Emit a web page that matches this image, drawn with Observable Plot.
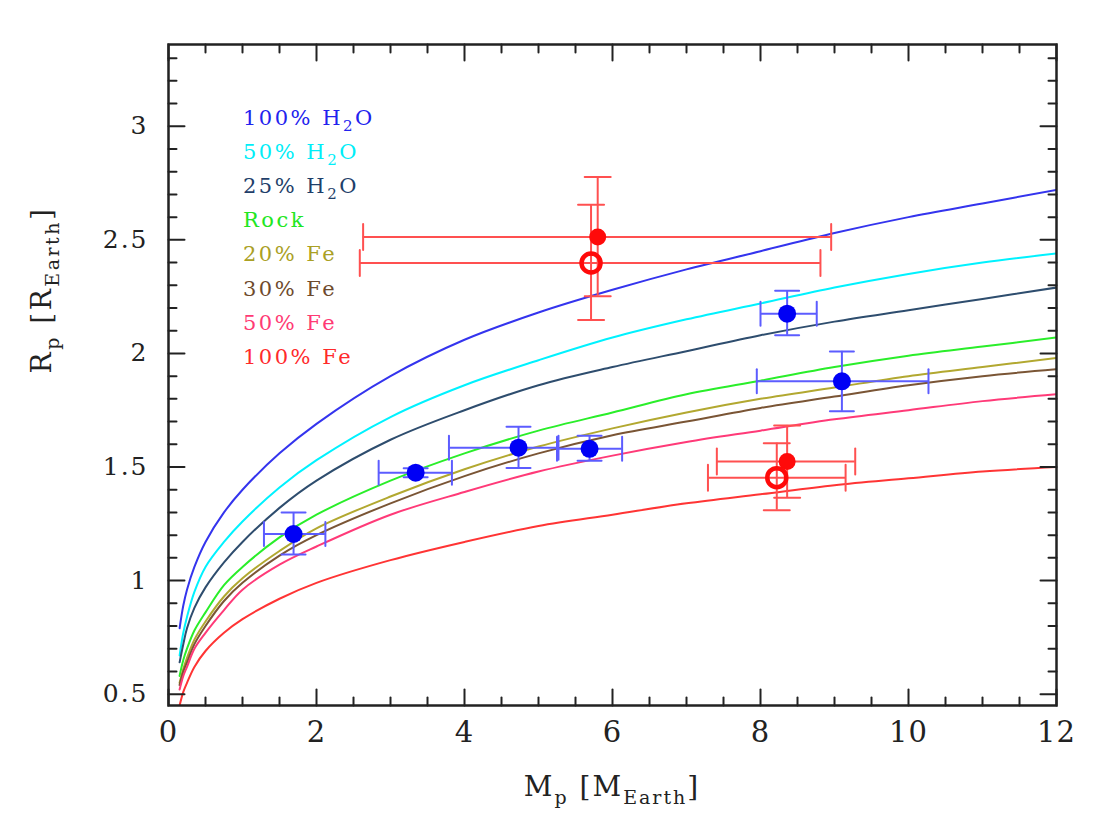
<!DOCTYPE html>
<html>
<head>
<meta charset="utf-8">
<script src="https://cdn.jsdelivr.net/npm/d3@7"></script>
<script src="https://cdn.jsdelivr.net/npm/@observablehq/plot@0.6"></script>
<style>
  html, body { margin: 0; padding: 0; background: #fff; }
  #chart { width: 1113px; height: 834px; }
</style>
</head>
<body>
<div id="chart"></div>
<script>
// Planet mass grid (Earth masses) on which the model radius curves are tabulated
const massGrid = [0.15, 0.2, 0.25, 0.35, 0.5, 0.75, 1, 1.5, 2, 3, 4, 5, 6, 7, 8, 9, 10, 11, 12];

// Model radii (Earth radii) for each bulk composition
const rWater100 = [0.79, 0.89, 0.96, 1.06, 1.17, 1.30, 1.40, 1.56, 1.69, 1.90, 2.06, 2.18, 2.28, 2.37, 2.45, 2.53, 2.60, 2.66, 2.72];
const rWater50  = [0.67, 0.77, 0.84, 0.95, 1.06, 1.17, 1.26, 1.41, 1.53, 1.72, 1.86, 1.97, 2.07, 2.15, 2.22, 2.29, 2.35, 2.40, 2.44];
const rWater25  = [0.64, 0.72, 0.79, 0.88, 0.97, 1.08, 1.17, 1.32, 1.44, 1.62, 1.75, 1.86, 1.94, 2.01, 2.08, 2.14, 2.19, 2.24, 2.29];
const rRock     = [0.58, 0.65, 0.70, 0.78, 0.86, 0.98, 1.06, 1.19, 1.29, 1.44, 1.56, 1.66, 1.74, 1.82, 1.88, 1.94, 1.99, 2.03, 2.07];
const rFe20     = [0.55, 0.61, 0.66, 0.74, 0.82, 0.93, 1.01, 1.13, 1.23, 1.37, 1.49, 1.59, 1.67, 1.74, 1.80, 1.85, 1.90, 1.94, 1.98];
const rFe30     = [0.54, 0.60, 0.64, 0.72, 0.80, 0.91, 0.99, 1.11, 1.20, 1.34, 1.46, 1.56, 1.64, 1.70, 1.76, 1.81, 1.86, 1.90, 1.93];
const rFe50     = [0.52, 0.58, 0.62, 0.70, 0.77, 0.87, 0.96, 1.07, 1.15, 1.29, 1.39, 1.48, 1.55, 1.61, 1.66, 1.71, 1.75, 1.79, 1.82];
const rFe100    = [0.45, 0.51, 0.55, 0.62, 0.69, 0.77, 0.83, 0.92, 0.99, 1.09, 1.17, 1.24, 1.29, 1.34, 1.38, 1.42, 1.45, 1.48, 1.50];

const modelRadii  = [rWater100, rWater50, rWater25, rRock, rFe20, rFe30, rFe50, rFe100];
const modelColors = ["#3434ee", "#00f2ff", "#2e4d6e", "#2aee2a", "#b2a830", "#7a5535", "#ff3a78", "#ff3434"];

// Legend entries (_{...} marks a subscript)
const legendLabels = ["100% H_{2}O", "50% H_{2}O", "25% H_{2}O", "Rock", "20% Fe", "30% Fe", "50% Fe", "100% Fe"];
const legendColors = ["#2222ee", "#00eef8", "#1f3f6a", "#22e622", "#aaa024", "#6e4a2c", "#ff3a74", "#ff2a2a"];

// Measured planets (blue): mass, radius and error ranges
const blueMass   = [1.69, 3.34, 4.73, 5.69, 8.36, 9.10];
const blueRadius = [1.205, 1.475, 1.585, 1.58, 2.175, 1.877];
const blueMassLo = [1.29, 2.84, 3.79, 5.25, 8.00, 7.95];
const blueMassHi = [2.12, 3.83, 5.27, 6.13, 8.76, 10.27];
const blueRadLo  = [1.115, 1.455, 1.496, 1.527, 2.08, 1.745];
const blueRadHi  = [1.30, 1.495, 1.677, 1.638, 2.276, 2.009];

// Red planets, filled symbols
const redMass   = [5.80, 8.36];
const redRadius = [2.513, 1.524];
const redMassLo = [2.63, 7.41];
const redMassHi = [8.955, 9.28];
const redRadLo  = [2.252, 1.365];
const redRadHi  = [2.777, 1.683];

// Red planets, open symbols
const redOpenMass   = [5.71, 8.22];
const redOpenRadius = [2.398, 1.453];
const redOpenMassLo = [2.585, 7.29];
const redOpenMassHi = [8.81, 9.15];
const redOpenRadLo  = [2.147, 1.31];
const redOpenRadHi  = [2.655, 1.605];

// Axis ticks and labels
const xTicks = [0, 2, 4, 6, 8, 10, 12];
const yTicks = [0.5, 1, 1.5, 2, 2.5, 3];
const xTitle = "M_{p} [M_{Earth}]";
const yTitle = "R_{p} [R_{Earth}]";

// ---------------------------------------------------------------------------
const curves = modelRadii.map((radii, k) => ({
  color: modelColors[k],
  rows: massGrid.map((m, i) => ({m, r: radii[i]}))
}));

function planets(M, R, MLo, MHi, RLo, RHi) {
  return M.map((m, i) => ({m, r: R[i], mlo: MLo[i], mhi: MHi[i], rlo: RLo[i], rhi: RHi[i]}));
}
const bluePts = planets(blueMass, blueRadius, blueMassLo, blueMassHi, blueRadLo, blueRadHi);
const redPts = planets(redMass, redRadius, redMassLo, redMassHi, redRadLo, redRadHi);
const redOpenPts = planets(redOpenMass, redOpenRadius, redOpenMassLo, redOpenMassHi, redOpenRadLo, redOpenRadHi);

// a plain line segment used for tick marks and error-bar caps
const segment = { draw(ctx, l) { ctx.moveTo(0, 0); ctx.lineTo(0, -l); } };

function errorBars(pts, color, cap) {
  const s = {stroke: color, strokeWidth: 2};
  return [
    Plot.ruleY(pts, {y: "r", x1: "mlo", x2: "mhi", ...s}),
    Plot.ruleX(pts, {x: "m", y1: "rlo", y2: "rhi", ...s}),
    Plot.vector(pts, {x: "mlo", y: "r", length: cap, rotate: 0, anchor: "middle", shape: segment, ...s}),
    Plot.vector(pts, {x: "mhi", y: "r", length: cap, rotate: 0, anchor: "middle", shape: segment, ...s}),
    Plot.vector(pts, {x: "m", y: "rlo", length: cap, rotate: 90, anchor: "middle", shape: segment, ...s}),
    Plot.vector(pts, {x: "m", y: "rhi", length: cap, rotate: 90, anchor: "middle", shape: segment, ...s})
  ];
}

const xMinor = d3.range(0, 12.001, 0.5).filter(v => !xTicks.includes(v));
const yAll = d3.range(5, 34).map(v => v / 10);
const yMinor = yAll.filter(v => !yTicks.includes(v));

function frameTicks(values, axis, anchors, len) {
  const rot = {bottom: 0, top: 180, left: 90, right: -90};
  return anchors.map(a => Plot.vector(values, {
    [axis]: d => d, frameAnchor: a, rotate: rot[a], length: len, anchor: "start",
    shape: segment, stroke: "#222", strokeWidth: 2
  }));
}

const chart = Plot.plot({
  width: 1113,
  height: 834,
  marginLeft: 168,
  marginRight: 57,
  marginTop: 44,
  marginBottom: 129,
  x: {domain: [0, 12]},
  y: {domain: [0.45, 3.36]},
  style: {fontFamily: "'DejaVu Serif', serif", background: "#fff", color: "#222"},
  marks: [
    ...curves.map(c => Plot.line(c.rows, {x: "m", y: "r", stroke: c.color, strokeWidth: 2, curve: "catmull-rom", clip: true})),
    ...errorBars(bluePts, "#5c5cff", 24),
    ...errorBars(redPts, "#ff5050", 26),
    ...errorBars(redOpenPts, "#ff5050", 26),
    Plot.dot(bluePts, {x: "m", y: "r", r: 9, fill: "#0000f5"}),
    Plot.dot(redPts, {x: "m", y: "r", r: 8.5, fill: "#ff0a0a"}),
    Plot.dot(redOpenPts, {x: "m", y: "r", r: 9.5, stroke: "#ff0a0a", strokeWidth: 4.5, fill: "none"}),
    Plot.frame({stroke: "#222", strokeWidth: 2.5}),
    ...frameTicks(xTicks, "x", ["bottom", "top"], 16),
    ...frameTicks(xMinor, "x", ["bottom", "top"], 8),
    ...frameTicks(yTicks, "y", ["left", "right"], 16),
    ...frameTicks(yMinor, "y", ["left", "right"], 8),
    Plot.axisX({ticks: xTicks, tickSize: 0, tickPadding: 16, fontSize: 29, label: null, tickFormat: d => String(d)}),
    Plot.axisY({ticks: yTicks, tickSize: 0, tickPadding: 20, fontSize: 25, label: null, tickFormat: d => String(d)})
  ]
});

document.getElementById("chart").appendChild(chart);

// text with _{...} subscripts rendered as tspans
function richText(sel, str, subSize, shift) {
  const parts = str.split(/(_\{[^}]*\})/).filter(s => s.length);
  let lowered = false;
  parts.forEach(p => {
    const sub = p.startsWith("_{");
    const t = sel.append("tspan").text(sub ? p.slice(2, -1) : p);
    if (sub) { t.attr("font-size", subSize).attr("dy", shift); lowered = true; }
    else if (lowered) { t.attr("dy", -shift); lowered = false; }
  });
}

const svg = d3.select(chart);
svg.selectAll("[aria-label='y-axis tick label'] text").attr("letter-spacing", 2);
svg.selectAll("[aria-label='x-axis tick label'] text").attr("letter-spacing", 1);

const legend = svg.append("g")
  .attr("font-family", "'DejaVu Serif', serif")
  .attr("font-size", 21)
  .attr("text-anchor", "start")
  .attr("letter-spacing", 2.5);
legendLabels.forEach((s, i) => {
  const t = legend.append("text").attr("x", 243).attr("y", 125 + i * 34.1).attr("fill", legendColors[i]);
  richText(t, s, 15, 6);
});

const xt = svg.append("text")
  .attr("x", 612).attr("y", 796)
  .attr("text-anchor", "middle")
  .attr("font-size", 28).attr("letter-spacing", 2).attr("fill", "#222");
richText(xt, xTitle, 19, 8);

const yt = svg.append("text")
  .attr("transform", "translate(51,290) rotate(-90)")
  .attr("text-anchor", "middle")
  .attr("font-size", 28).attr("letter-spacing", 2.5).attr("fill", "#222");
richText(yt, yTitle, 19, 8);
</script>
</body>
</html>
